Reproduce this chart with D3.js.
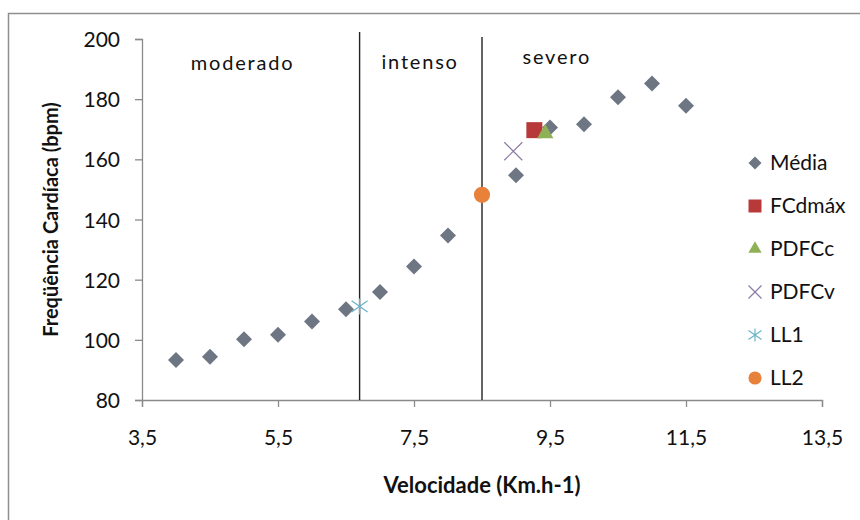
<!DOCTYPE html>
<html lang="pt">
<head>
    <meta charset="UTF-8">
    <title>Frequência cardíaca x velocidade</title>
    <script src="https://d3js.org/d3.v7.min.js"></script>
    <style>
        body { margin: 0; background: #fff; }
        text { font-family: Lato, "Open Sans", sans-serif; fill: #111; }
    </style>
</head>
<body>
    <div id="chart"></div>
    <script>
        // dados
        const velocidade = [4, 4.5, 5, 5.5, 6, 6.5, 7, 7.5, 8, 9, 9.5, 10, 10.5, 11, 11.5];
        const media = [93.3, 94.4, 100.2, 101.7, 106.1, 110.2, 115.9, 124.4, 134.7, 154.7, 170.6, 171.7, 180.6, 185.2, 177.8];
        const fcdmax = [{x: 9.27, y: 169.7}];
        const pdfcc = [{x: 9.43, y: 168.6}];
        const pdfcv = [{x: 8.96, y: 162.7}];
        const ll1 = [{x: 6.7, y: 111.1}];
        const ll2 = [{x: 8.5, y: 148.2}];
        const limites = [6.7, 8.5];
        const zonas = [
            {label: "moderado", x: 4.98, y: 189.7},
            {label: "intenso", x: 7.59, y: 190.0},
            {label: "severo", x: 9.6, y: 191.7}
        ];
        const xTicks = [3.5, 5.5, 7.5, 9.5, 11.5, 13.5];
        const yTicks = [80, 100, 120, 140, 160, 180, 200];

        const width = 860, height = 520;
        const margin = {top: 39, right: 38, bottom: 120, left: 142};

        const svg = d3.select("#chart")
            .append("svg")
            .attr("width", width)
            .attr("height", height);

        // moldura
        svg.append("rect")
            .attr("x", 8.5).attr("y", 13.5)
            .attr("width", 900).attr("height", 600)
            .attr("fill", "none")
            .attr("stroke", "#8f8f8f")
            .attr("stroke-width", 1.5);

        const x = d3.scaleLinear()
            .domain([3.5, 13.5])
            .range([margin.left, width - margin.right]);

        const y = d3.scaleLinear()
            .domain([80, 200])
            .range([height - margin.bottom, margin.top]);

        const fmt = d => String(d).replace(".", ",");

        // eixo X
        const gx = svg.append("g")
            .attr("transform", `translate(0,${y(80)})`)
            .call(d3.axisBottom(x).tickValues(xTicks).tickFormat(fmt).tickSize(7).tickPadding(23));
        // eixo Y
        const gy = svg.append("g")
            .attr("transform", `translate(${x(3.5)},0)`)
            .call(d3.axisLeft(y).tickValues(yTicks).tickSize(7).tickPadding(15));

        [gx, gy].forEach(g => {
            g.selectAll(".domain, line").attr("stroke", "#8a8a8a").attr("stroke-width", 1.3);
            g.selectAll("text").style("font-size", "21px").attr("fill", "#1a1a1a");
        });
        gy.selectAll("text").attr("dy", "0.36em");

        // linhas de limite
        svg.selectAll(".limite")
            .data(limites)
            .join("line")
            .attr("class", "limite")
            .attr("x1", d => x(d)).attr("x2", d => x(d))
            .attr("y1", (d, i) => y(i === 0 ? 202.3 : 200.7))
            .attr("y2", y(80))
            .attr("stroke", "#222")
            .attr("stroke-width", 1.4);

        // rótulos das zonas
        svg.selectAll(".zona")
            .data(zonas)
            .join("text")
            .attr("class", "zona")
            .attr("x", d => x(d.x))
            .attr("y", d => y(d.y))
            .attr("text-anchor", "middle")
            .style("font-size", "20px")
            .style("letter-spacing", "1.8px")
            .text(d => d.label);

        // títulos dos eixos
        svg.append("text")
            .attr("x", x(8.5))
            .attr("y", 493)
            .attr("text-anchor", "middle")
            .style("font-size", "22px")
            .style("font-weight", "bold")
            .text("Velocidade (Km.h-1)");

        svg.append("text")
            .attr("transform", `translate(58,${y(140)}) rotate(-90)`)
            .attr("text-anchor", "middle")
            .style("font-size", "20px")
            .style("font-weight", "bold")
            .text("Freqüência Cardíaca (bpm)");

        // séries
        const series = [
            {name: "Média", data: velocidade.map((v, i) => ({x: v, y: media[i]})), type: "diamond", color: "#6e7684"},
            {name: "FCdmáx", data: fcdmax, type: "square", color: "#b8393a"},
            {name: "PDFCc", data: pdfcc, type: "triangle", color: "#8fb155"},
            {name: "PDFCv", data: pdfcv, type: "cross", color: "#8a7aa6"},
            {name: "LL1", data: ll1, type: "star", color: "#6ab4c8"},
            {name: "LL2", data: ll2, type: "circle", color: "#e8823a"}
        ];

        function drawMarker(g, type, color, s) {
            const h = s / 2;
            if (type === "diamond") {
                g.append("path")
                    .attr("d", d3.symbol(d3.symbolSquare, s * s * 0.5)())
                    .attr("transform", "rotate(45)")
                    .attr("fill", color);
            } else if (type === "square") {
                g.append("path").attr("d", d3.symbol(d3.symbolSquare, s * s)()).attr("fill", color);
            } else if (type === "triangle") {
                g.append("path").attr("d", d3.symbol(d3.symbolTriangle, s * s * 0.45)()).attr("fill", color);
            } else if (type === "circle") {
                g.append("path").attr("d", d3.symbol(d3.symbolCircle, s * s * 0.8)()).attr("fill", color);
            } else if (type === "cross") {
                g.append("path").attr("d", `M${-h},${-h}L${h},${h}M${-h},${h}L${h},${-h}`)
                    .attr("fill", "none").attr("stroke", color).attr("stroke-width", 1.2);
            } else if (type === "star") {
                g.append("path").attr("d", `M${-h},${-h * 0.7}L${h},${h * 0.7}M${-h},${h * 0.7}L${h},${-h * 0.7}M0,${-h}L0,${h}`)
                    .attr("fill", "none").attr("stroke", color).attr("stroke-width", 1.2);
            }
        }

        series.forEach(sr => {
            svg.append("g").selectAll("g")
                .data(sr.data)
                .join("g")
                .attr("transform", d => `translate(${x(d.x)},${y(d.y)})`)
                .each(function () { drawMarker(d3.select(this), sr.type, sr.color, sr.type === "cross" ? 18 : 16); });
        });

        // legenda
        const legend = svg.append("g").attr("transform", "translate(755,163)");
        const item = legend.selectAll("g")
            .data(series)
            .join("g")
            .attr("transform", (d, i) => `translate(0,${i * 43})`);
        item.each(function (d) { drawMarker(d3.select(this), d.type, d.color, 13); });
        item.append("text")
            .attr("x", 15)
            .attr("dy", "0.35em")
            .style("font-size", "21px")
            .attr("fill", "#000")
            .text(d => d.name);
    </script>
</body>
</html>
